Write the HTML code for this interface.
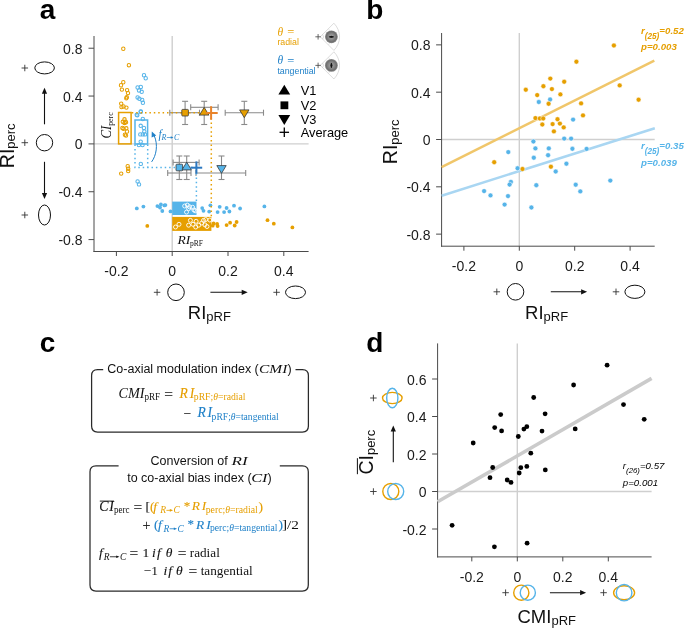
<!DOCTYPE html>
<html><head><meta charset="utf-8"><style>
html,body{margin:0;padding:0;background:#fff;}
svg{display:block;will-change:transform;}

</style></head><body>
<svg width="685" height="628" viewBox="0 0 685 628">
<rect width="685" height="628" fill="#fff"/>
<text x="39.80" y="19.30" font-size="28" text-anchor="start" fill="#000" font-family='"Liberation Sans", sans-serif' font-weight="bold">a</text>
<line x1="172.20" y1="36.00" x2="172.20" y2="251.50" stroke="#cfcfcf" stroke-width="1.4" />
<line x1="94.00" y1="143.90" x2="308.60" y2="143.90" stroke="#cfcfcf" stroke-width="1.4" />
<line x1="94.00" y1="36.00" x2="94.00" y2="252.00" stroke="#4a4a4a" stroke-width="1" />
<line x1="93.50" y1="251.50" x2="308.60" y2="251.50" stroke="#4a4a4a" stroke-width="1" />
<line x1="88.50" y1="48.22" x2="94.00" y2="48.22" stroke="#4a4a4a" stroke-width="1" />
<text x="82.50" y="53.72" font-size="14" text-anchor="end" fill="#1a1a1a" font-family='"Liberation Sans", sans-serif' >0.8</text>
<line x1="88.50" y1="96.06" x2="94.00" y2="96.06" stroke="#4a4a4a" stroke-width="1" />
<text x="82.50" y="101.56" font-size="14" text-anchor="end" fill="#1a1a1a" font-family='"Liberation Sans", sans-serif' >0.4</text>
<line x1="88.50" y1="143.90" x2="94.00" y2="143.90" stroke="#4a4a4a" stroke-width="1" />
<text x="82.50" y="149.40" font-size="14" text-anchor="end" fill="#1a1a1a" font-family='"Liberation Sans", sans-serif' >0</text>
<line x1="88.50" y1="191.74" x2="94.00" y2="191.74" stroke="#4a4a4a" stroke-width="1" />
<text x="82.50" y="197.24" font-size="14" text-anchor="end" fill="#1a1a1a" font-family='"Liberation Sans", sans-serif' >-0.4</text>
<line x1="88.50" y1="239.58" x2="94.00" y2="239.58" stroke="#4a4a4a" stroke-width="1" />
<text x="82.50" y="245.08" font-size="14" text-anchor="end" fill="#1a1a1a" font-family='"Liberation Sans", sans-serif' >-0.8</text>
<line x1="116.40" y1="251.50" x2="116.40" y2="256.00" stroke="#4a4a4a" stroke-width="1" />
<text x="116.40" y="276.20" font-size="14" text-anchor="middle" fill="#1a1a1a" font-family='"Liberation Sans", sans-serif' >-0.2</text>
<line x1="172.20" y1="251.50" x2="172.20" y2="256.00" stroke="#4a4a4a" stroke-width="1" />
<text x="172.20" y="276.20" font-size="14" text-anchor="middle" fill="#1a1a1a" font-family='"Liberation Sans", sans-serif' >0</text>
<line x1="228.00" y1="251.50" x2="228.00" y2="256.00" stroke="#4a4a4a" stroke-width="1" />
<text x="228.00" y="276.20" font-size="14" text-anchor="middle" fill="#1a1a1a" font-family='"Liberation Sans", sans-serif' >0.2</text>
<line x1="283.80" y1="251.50" x2="283.80" y2="256.00" stroke="#4a4a4a" stroke-width="1" />
<text x="283.80" y="276.20" font-size="14" text-anchor="middle" fill="#1a1a1a" font-family='"Liberation Sans", sans-serif' >0.4</text>
<text transform="translate(14,168.2) rotate(-90)" font-family='"Liberation Sans", sans-serif' fill="#111"><tspan font-size="19.5">RI</tspan><tspan font-size="13" dy="1.2">perc</tspan></text>
<line x1="21.55" y1="68.00" x2="28.05" y2="68.00" stroke="#333" stroke-width="0.9" />
<line x1="24.80" y1="64.75" x2="24.80" y2="71.25" stroke="#333" stroke-width="0.9" />
<ellipse cx="44.6" cy="67.9" rx="9.8" ry="6.0" fill="none" stroke="#111" stroke-width="1"/>
<line x1="21.55" y1="142.70" x2="28.05" y2="142.70" stroke="#333" stroke-width="0.9" />
<line x1="24.80" y1="139.45" x2="24.80" y2="145.95" stroke="#333" stroke-width="0.9" />
<circle cx="44.5" cy="142.7" r="8.2" fill="none" stroke="#111" stroke-width="1"/>
<line x1="21.55" y1="215.00" x2="28.05" y2="215.00" stroke="#333" stroke-width="0.9" />
<line x1="24.80" y1="211.75" x2="24.80" y2="218.25" stroke="#333" stroke-width="0.9" />
<ellipse cx="44.5" cy="215" rx="6.0" ry="10" fill="none" stroke="#111" stroke-width="1"/>
<line x1="44.50" y1="124.30" x2="44.50" y2="92.70" stroke="#111" stroke-width="1.1" />
<path d="M44.50,87.70 L41.90,93.70 L47.10,93.70 Z" fill="#111"/>
<line x1="44.50" y1="161.80" x2="44.50" y2="194.00" stroke="#111" stroke-width="1.1" />
<path d="M44.50,199.00 L41.90,193.00 L47.10,193.00 Z" fill="#111"/>
<line x1="153.85" y1="292.30" x2="160.35" y2="292.30" stroke="#333" stroke-width="0.9" />
<line x1="157.10" y1="289.05" x2="157.10" y2="295.55" stroke="#333" stroke-width="0.9" />
<circle cx="176" cy="292.3" r="8.3" fill="none" stroke="#111" stroke-width="1"/>
<line x1="210.40" y1="292.30" x2="242.70" y2="292.30" stroke="#111" stroke-width="1.1" />
<path d="M247.70,292.30 L241.70,289.70 L241.70,294.90 Z" fill="#111"/>
<line x1="273.35" y1="292.30" x2="279.85" y2="292.30" stroke="#333" stroke-width="0.9" />
<line x1="276.60" y1="289.05" x2="276.60" y2="295.55" stroke="#333" stroke-width="0.9" />
<ellipse cx="295.5" cy="292.3" rx="10" ry="6.3" fill="none" stroke="#111" stroke-width="1"/>
<text x="187.8" y="319.4" font-family='"Liberation Sans", sans-serif' fill="#111"><tspan font-size="18.5">RI</tspan><tspan font-size="13" dy="1.4">pRF</tspan></text>
<rect x="118.6" y="112.5" width="12.5" height="31.4" fill="none" stroke="#E69F00" stroke-width="1.5"/>
<rect x="135.0" y="120.0" width="12.6" height="24" fill="none" stroke="#56B4E9" stroke-width="1.5"/>
<circle cx="123.30" cy="48.70" r="1.7" fill="none" stroke="#E69F00" stroke-width="1.05"/>
<circle cx="128.90" cy="65.20" r="1.7" fill="none" stroke="#E69F00" stroke-width="1.05"/>
<circle cx="123.30" cy="82.20" r="1.7" fill="none" stroke="#E69F00" stroke-width="1.05"/>
<circle cx="121.00" cy="85.20" r="1.7" fill="none" stroke="#E69F00" stroke-width="1.05"/>
<circle cx="121.90" cy="89.60" r="1.7" fill="none" stroke="#E69F00" stroke-width="1.05"/>
<circle cx="127.10" cy="90.10" r="1.7" fill="none" stroke="#E69F00" stroke-width="1.05"/>
<circle cx="128.00" cy="93.10" r="1.7" fill="none" stroke="#E69F00" stroke-width="1.05"/>
<circle cx="126.30" cy="98.30" r="1.7" fill="none" stroke="#E69F00" stroke-width="1.05"/>
<circle cx="126.80" cy="97.20" r="1.7" fill="none" stroke="#E69F00" stroke-width="1.05"/>
<circle cx="121.20" cy="103.60" r="1.7" fill="none" stroke="#E69F00" stroke-width="1.05"/>
<circle cx="121.50" cy="107.10" r="1.7" fill="none" stroke="#E69F00" stroke-width="1.05"/>
<circle cx="126.40" cy="107.60" r="1.7" fill="none" stroke="#E69F00" stroke-width="1.05"/>
<circle cx="123.50" cy="106.50" r="1.7" fill="none" stroke="#E69F00" stroke-width="1.05"/>
<circle cx="124.50" cy="119.30" r="1.7" fill="none" stroke="#E69F00" stroke-width="1.05"/>
<circle cx="122.80" cy="121.80" r="1.7" fill="none" stroke="#E69F00" stroke-width="1.05"/>
<circle cx="126.00" cy="122.20" r="1.7" fill="none" stroke="#E69F00" stroke-width="1.05"/>
<circle cx="124.50" cy="122.90" r="1.7" fill="none" stroke="#E69F00" stroke-width="1.05"/>
<circle cx="125.30" cy="121.80" r="1.7" fill="none" stroke="#E69F00" stroke-width="1.05"/>
<circle cx="122.40" cy="127.90" r="1.7" fill="none" stroke="#E69F00" stroke-width="1.05"/>
<circle cx="123.50" cy="128.70" r="1.7" fill="none" stroke="#E69F00" stroke-width="1.05"/>
<circle cx="126.30" cy="128.30" r="1.7" fill="none" stroke="#E69F00" stroke-width="1.05"/>
<circle cx="127.00" cy="131.50" r="1.7" fill="none" stroke="#E69F00" stroke-width="1.05"/>
<circle cx="126.00" cy="135.50" r="1.7" fill="none" stroke="#E69F00" stroke-width="1.05"/>
<circle cx="124.90" cy="134.70" r="1.7" fill="none" stroke="#E69F00" stroke-width="1.05"/>
<circle cx="121.20" cy="173.60" r="1.7" fill="none" stroke="#E69F00" stroke-width="1.05"/>
<circle cx="127.70" cy="166.20" r="1.7" fill="none" stroke="#E69F00" stroke-width="1.05"/>
<circle cx="128.20" cy="168.70" r="1.7" fill="none" stroke="#E69F00" stroke-width="1.05"/>
<circle cx="128.20" cy="171.00" r="1.7" fill="none" stroke="#E69F00" stroke-width="1.05"/>
<circle cx="144.00" cy="75.20" r="1.7" fill="none" stroke="#56B4E9" stroke-width="1.05"/>
<circle cx="145.70" cy="78.20" r="1.7" fill="none" stroke="#56B4E9" stroke-width="1.05"/>
<circle cx="137.60" cy="87.50" r="1.7" fill="none" stroke="#56B4E9" stroke-width="1.05"/>
<circle cx="140.80" cy="86.90" r="1.7" fill="none" stroke="#56B4E9" stroke-width="1.05"/>
<circle cx="139.00" cy="90.40" r="1.7" fill="none" stroke="#56B4E9" stroke-width="1.05"/>
<circle cx="141.70" cy="91.80" r="1.7" fill="none" stroke="#56B4E9" stroke-width="1.05"/>
<circle cx="137.60" cy="97.40" r="1.7" fill="none" stroke="#56B4E9" stroke-width="1.05"/>
<circle cx="139.40" cy="98.70" r="1.7" fill="none" stroke="#56B4E9" stroke-width="1.05"/>
<circle cx="142.20" cy="100.00" r="1.7" fill="none" stroke="#56B4E9" stroke-width="1.05"/>
<circle cx="142.90" cy="102.70" r="1.7" fill="none" stroke="#56B4E9" stroke-width="1.05"/>
<circle cx="140.80" cy="111.40" r="1.7" fill="none" stroke="#56B4E9" stroke-width="1.05"/>
<circle cx="137.30" cy="115.30" r="1.7" fill="none" stroke="#56B4E9" stroke-width="1.05"/>
<circle cx="136.70" cy="114.70" r="1.7" fill="none" stroke="#56B4E9" stroke-width="1.05"/>
<circle cx="140.70" cy="111.80" r="1.7" fill="none" stroke="#56B4E9" stroke-width="1.05"/>
<circle cx="142.80" cy="119.00" r="1.7" fill="none" stroke="#56B4E9" stroke-width="1.05"/>
<circle cx="140.70" cy="125.80" r="1.7" fill="none" stroke="#56B4E9" stroke-width="1.05"/>
<circle cx="143.90" cy="127.90" r="1.7" fill="none" stroke="#56B4E9" stroke-width="1.05"/>
<circle cx="144.30" cy="131.50" r="1.7" fill="none" stroke="#56B4E9" stroke-width="1.05"/>
<circle cx="140.30" cy="134.40" r="1.7" fill="none" stroke="#56B4E9" stroke-width="1.05"/>
<circle cx="142.80" cy="134.40" r="1.7" fill="none" stroke="#56B4E9" stroke-width="1.05"/>
<circle cx="145.00" cy="134.40" r="1.7" fill="none" stroke="#56B4E9" stroke-width="1.05"/>
<circle cx="140.70" cy="141.60" r="1.7" fill="none" stroke="#56B4E9" stroke-width="1.05"/>
<circle cx="138.90" cy="145.10" r="1.7" fill="none" stroke="#56B4E9" stroke-width="1.05"/>
<circle cx="142.50" cy="145.10" r="1.7" fill="none" stroke="#56B4E9" stroke-width="1.05"/>
<circle cx="140.80" cy="163.90" r="1.7" fill="none" stroke="#56B4E9" stroke-width="1.05"/>
<circle cx="137.60" cy="181.40" r="1.7" fill="none" stroke="#56B4E9" stroke-width="1.05"/>
<circle cx="139.00" cy="184.40" r="1.7" fill="none" stroke="#56B4E9" stroke-width="1.05"/>
<text transform="translate(110.6,138.6) rotate(-90)" font-family='"Liberation Serif", serif' fill="#111"><tspan font-size="14.4" font-style="italic" textLength="12.8" lengthAdjust="spacingAndGlyphs">CI</tspan><tspan font-size="8.4" dy="2" textLength="13.5" lengthAdjust="spacingAndGlyphs">perc</tspan></text>
<path d="M151.6,161.9 C156.3,155.5 158.3,145 154.2,135.6" fill="none" stroke="#1f80c8" stroke-width="1.0"/>
<path d="M151.8,131.6 L151.6,137.6 L156.2,135.4 Z" fill="#1f80c8"/>
<text x="158.6" y="137.8" font-family='"Liberation Serif", serif' fill="#1f80c8" font-style="italic" font-size="11.5">f</text>
<text x="161.60" y="139.90" font-size="8" fill="#1f80c8" font-family='"Liberation Serif", serif' font-style="italic">R</text>
<text x="173.96" y="139.90" font-size="8" fill="#1f80c8" font-family='"Liberation Serif", serif' font-style="italic">C</text>
<line x1="166.79" y1="137.50" x2="171.83" y2="137.50" stroke="#1f80c8" stroke-width="0.68"/>
<path d="M173.46,137.50 L170.74,136.36 L170.74,138.64 Z" fill="#1f80c8"/>
<rect x="172.2" y="201.6" width="24.3" height="13.4" fill="#56B4E9"/>
<rect x="172.2" y="216.9" width="39.2" height="14" fill="#E69F00"/>
<circle cx="184.70" cy="206.00" r="2.0" fill="none" stroke="#fff" stroke-width="0.9"/>
<circle cx="187.30" cy="205.10" r="2.0" fill="none" stroke="#fff" stroke-width="0.9"/>
<circle cx="189.50" cy="206.80" r="2.0" fill="none" stroke="#fff" stroke-width="0.9"/>
<circle cx="192.60" cy="207.30" r="2.0" fill="none" stroke="#fff" stroke-width="0.9"/>
<circle cx="186.50" cy="212.10" r="2.0" fill="none" stroke="#fff" stroke-width="0.9"/>
<circle cx="188.60" cy="208.60" r="2.0" fill="none" stroke="#fff" stroke-width="0.9"/>
<circle cx="195.20" cy="210.80" r="2.0" fill="none" stroke="#fff" stroke-width="0.9"/>
<circle cx="193.90" cy="209.90" r="2.0" fill="none" stroke="#fff" stroke-width="0.9"/>
<circle cx="175.50" cy="227.00" r="2.0" fill="none" stroke="#fff" stroke-width="0.9"/>
<circle cx="179.00" cy="224.30" r="2.0" fill="none" stroke="#fff" stroke-width="0.9"/>
<circle cx="190.40" cy="220.40" r="2.0" fill="none" stroke="#fff" stroke-width="0.9"/>
<circle cx="188.60" cy="225.20" r="2.0" fill="none" stroke="#fff" stroke-width="0.9"/>
<circle cx="193.00" cy="224.30" r="2.0" fill="none" stroke="#fff" stroke-width="0.9"/>
<circle cx="196.10" cy="221.30" r="2.0" fill="none" stroke="#fff" stroke-width="0.9"/>
<circle cx="195.70" cy="227.00" r="2.0" fill="none" stroke="#fff" stroke-width="0.9"/>
<circle cx="198.70" cy="225.20" r="2.0" fill="none" stroke="#fff" stroke-width="0.9"/>
<circle cx="201.80" cy="223.00" r="2.0" fill="none" stroke="#fff" stroke-width="0.9"/>
<circle cx="203.50" cy="220.40" r="2.0" fill="none" stroke="#fff" stroke-width="0.9"/>
<circle cx="205.70" cy="219.50" r="2.0" fill="none" stroke="#fff" stroke-width="0.9"/>
<circle cx="207.00" cy="226.50" r="2.0" fill="none" stroke="#fff" stroke-width="0.9"/>
<circle cx="209.80" cy="220.00" r="2.0" fill="none" stroke="#fff" stroke-width="0.9"/>
<circle cx="204.90" cy="224.80" r="2.0" fill="none" stroke="#fff" stroke-width="0.9"/>
<circle cx="136.80" cy="208.40" r="1.9" fill="#56B4E9"/>
<circle cx="143.40" cy="206.60" r="1.9" fill="#56B4E9"/>
<circle cx="157.40" cy="206.10" r="1.9" fill="#56B4E9"/>
<circle cx="160.90" cy="204.40" r="1.9" fill="#56B4E9"/>
<circle cx="164.40" cy="205.40" r="1.9" fill="#56B4E9"/>
<circle cx="162.30" cy="211.00" r="1.9" fill="#56B4E9"/>
<circle cx="160.00" cy="207.50" r="1.9" fill="#56B4E9"/>
<circle cx="170.50" cy="211.40" r="1.9" fill="#56B4E9"/>
<circle cx="165.40" cy="205.10" r="1.9" fill="#56B4E9"/>
<circle cx="202.20" cy="208.10" r="1.9" fill="#56B4E9"/>
<circle cx="203.50" cy="210.80" r="1.9" fill="#56B4E9"/>
<circle cx="210.40" cy="205.30" r="1.9" fill="#56B4E9"/>
<circle cx="209.20" cy="211.60" r="1.9" fill="#56B4E9"/>
<circle cx="219.70" cy="206.80" r="1.9" fill="#56B4E9"/>
<circle cx="217.60" cy="212.10" r="1.9" fill="#56B4E9"/>
<circle cx="224.10" cy="212.10" r="1.9" fill="#56B4E9"/>
<circle cx="226.60" cy="208.00" r="1.9" fill="#56B4E9"/>
<circle cx="229.40" cy="211.50" r="1.9" fill="#56B4E9"/>
<circle cx="234.00" cy="205.70" r="1.9" fill="#56B4E9"/>
<circle cx="240.10" cy="208.50" r="1.9" fill="#56B4E9"/>
<circle cx="264.40" cy="206.40" r="1.9" fill="#56B4E9"/>
<circle cx="147.30" cy="225.90" r="1.9" fill="#E69F00"/>
<circle cx="213.60" cy="223.50" r="1.9" fill="#E69F00"/>
<circle cx="217.10" cy="223.90" r="1.9" fill="#E69F00"/>
<circle cx="217.60" cy="226.10" r="1.9" fill="#E69F00"/>
<circle cx="212.70" cy="225.70" r="1.9" fill="#E69F00"/>
<circle cx="226.60" cy="225.10" r="1.9" fill="#E69F00"/>
<circle cx="230.10" cy="222.70" r="1.9" fill="#E69F00"/>
<circle cx="234.70" cy="225.50" r="1.9" fill="#E69F00"/>
<circle cx="236.60" cy="222.00" r="1.9" fill="#E69F00"/>
<circle cx="267.50" cy="220.20" r="1.9" fill="#E69F00"/>
<circle cx="273.80" cy="223.70" r="1.9" fill="#E69F00"/>
<circle cx="292.40" cy="227.40" r="1.9" fill="#E69F00"/>
<text x="177.6" y="243.8" font-family='"Liberation Serif", serif' fill="#111" font-size="11.5" font-style="italic" textLength="12.8" lengthAdjust="spacingAndGlyphs">RI</text>
<text x="189.9" y="245.8" font-family='"Liberation Serif", serif' fill="#111" font-size="8.2" textLength="13" lengthAdjust="spacingAndGlyphs">pRF</text>
<line x1="169.80" y1="112.70" x2="199.50" y2="112.70" stroke="#8a8a8a" stroke-width="1.1" />
<line x1="169.80" y1="109.70" x2="169.80" y2="115.70" stroke="#8a8a8a" stroke-width="1.1" />
<line x1="199.50" y1="109.70" x2="199.50" y2="115.70" stroke="#8a8a8a" stroke-width="1.1" />
<line x1="190.70" y1="107.30" x2="218.10" y2="107.30" stroke="#8a8a8a" stroke-width="1.1" />
<line x1="190.70" y1="104.30" x2="190.70" y2="110.30" stroke="#8a8a8a" stroke-width="1.1" />
<line x1="218.10" y1="104.30" x2="218.10" y2="110.30" stroke="#8a8a8a" stroke-width="1.1" />
<line x1="225.20" y1="112.70" x2="263.50" y2="112.70" stroke="#8a8a8a" stroke-width="1.1" />
<line x1="225.20" y1="109.70" x2="225.20" y2="115.70" stroke="#8a8a8a" stroke-width="1.1" />
<line x1="263.50" y1="109.70" x2="263.50" y2="115.70" stroke="#8a8a8a" stroke-width="1.1" />
<line x1="185.10" y1="101.30" x2="185.10" y2="124.50" stroke="#8a8a8a" stroke-width="1.1" />
<line x1="182.10" y1="101.30" x2="188.10" y2="101.30" stroke="#8a8a8a" stroke-width="1.1" />
<line x1="182.10" y1="124.50" x2="188.10" y2="124.50" stroke="#8a8a8a" stroke-width="1.1" />
<line x1="204.20" y1="101.30" x2="204.20" y2="124.50" stroke="#8a8a8a" stroke-width="1.1" />
<line x1="201.20" y1="101.30" x2="207.20" y2="101.30" stroke="#8a8a8a" stroke-width="1.1" />
<line x1="201.20" y1="124.50" x2="207.20" y2="124.50" stroke="#8a8a8a" stroke-width="1.1" />
<line x1="244.30" y1="101.30" x2="244.30" y2="124.50" stroke="#8a8a8a" stroke-width="1.1" />
<line x1="241.30" y1="101.30" x2="247.30" y2="101.30" stroke="#8a8a8a" stroke-width="1.1" />
<line x1="241.30" y1="124.50" x2="247.30" y2="124.50" stroke="#8a8a8a" stroke-width="1.1" />
<line x1="173.10" y1="162.40" x2="199.10" y2="162.40" stroke="#8a8a8a" stroke-width="1.1" />
<line x1="173.10" y1="159.40" x2="173.10" y2="165.40" stroke="#8a8a8a" stroke-width="1.1" />
<line x1="199.10" y1="159.40" x2="199.10" y2="165.40" stroke="#8a8a8a" stroke-width="1.1" />
<line x1="167.70" y1="173.00" x2="191.00" y2="173.00" stroke="#8a8a8a" stroke-width="1.1" />
<line x1="167.70" y1="170.00" x2="167.70" y2="176.00" stroke="#8a8a8a" stroke-width="1.1" />
<line x1="191.00" y1="170.00" x2="191.00" y2="176.00" stroke="#8a8a8a" stroke-width="1.1" />
<line x1="196.00" y1="173.00" x2="245.70" y2="173.00" stroke="#8a8a8a" stroke-width="1.1" />
<line x1="196.00" y1="170.00" x2="196.00" y2="176.00" stroke="#8a8a8a" stroke-width="1.1" />
<line x1="245.70" y1="170.00" x2="245.70" y2="176.00" stroke="#8a8a8a" stroke-width="1.1" />
<line x1="179.30" y1="156.00" x2="179.30" y2="179.50" stroke="#8a8a8a" stroke-width="1.1" />
<line x1="176.30" y1="156.00" x2="182.30" y2="156.00" stroke="#8a8a8a" stroke-width="1.1" />
<line x1="176.30" y1="179.50" x2="182.30" y2="179.50" stroke="#8a8a8a" stroke-width="1.1" />
<line x1="186.70" y1="156.00" x2="186.70" y2="179.50" stroke="#8a8a8a" stroke-width="1.1" />
<line x1="183.70" y1="156.00" x2="189.70" y2="156.00" stroke="#8a8a8a" stroke-width="1.1" />
<line x1="183.70" y1="179.50" x2="189.70" y2="179.50" stroke="#8a8a8a" stroke-width="1.1" />
<line x1="221.50" y1="156.00" x2="221.50" y2="179.50" stroke="#8a8a8a" stroke-width="1.1" />
<line x1="218.50" y1="156.00" x2="224.50" y2="156.00" stroke="#8a8a8a" stroke-width="1.1" />
<line x1="218.50" y1="179.50" x2="224.50" y2="179.50" stroke="#8a8a8a" stroke-width="1.1" />
<line x1="131.8" y1="112.7" x2="210" y2="112.7" stroke="#E69F00" stroke-width="1.5" stroke-dasharray="1.5 2.9"/>
<line x1="211.3" y1="118" x2="211.3" y2="217" stroke="#E69F00" stroke-width="1.5" stroke-dasharray="1.5 2.9"/>
<polyline points="135,144.5 135,167.6 196,167.6" fill="none" stroke="#56B4E9" stroke-width="1.5" stroke-dasharray="1.5 2.9"/>
<line x1="147.7" y1="144.5" x2="147.7" y2="167.6" stroke="#56B4E9" stroke-width="1.5" stroke-dasharray="1.5 2.9"/>
<line x1="196.4" y1="173" x2="196.4" y2="201.5" stroke="#56B4E9" stroke-width="1.5" stroke-dasharray="1.5 2.9"/>
<rect x="181.80" y="109.40" width="6.6" height="6.6" rx="0.8" fill="#E69F00" stroke="#3a3a3a" stroke-width="0.8"/>
<path d="M204.20,107.32 L208.90,115.12 L199.50,115.12 Z" fill="#E69F00" stroke="#3a3a3a" stroke-width="0.8" stroke-linejoin="round"/>
<path d="M244.30,117.68 L249.00,109.88 L239.60,109.88 Z" fill="#E69F00" stroke="#3a3a3a" stroke-width="0.8" stroke-linejoin="round"/>
<rect x="176.00" y="164.20" width="6.6" height="6.6" rx="0.8" fill="#56B4E9" stroke="#3a3a3a" stroke-width="0.8"/>
<path d="M186.70,162.12 L191.40,169.92 L182.00,169.92 Z" fill="#56B4E9" stroke="#3a3a3a" stroke-width="0.8" stroke-linejoin="round"/>
<path d="M221.50,173.38 L226.20,165.58 L216.80,165.58 Z" fill="#56B4E9" stroke="#3a3a3a" stroke-width="0.8" stroke-linejoin="round"/>
<line x1="205.70" y1="113.00" x2="217.70" y2="113.00" stroke="#E8832A" stroke-width="2.0" />
<line x1="211.10" y1="106.20" x2="211.10" y2="119.70" stroke="#E8832A" stroke-width="2.0" />
<line x1="190.40" y1="167.70" x2="202.20" y2="167.70" stroke="#2c78c0" stroke-width="2.0" />
<line x1="196.40" y1="161.40" x2="196.40" y2="173.60" stroke="#2c78c0" stroke-width="2.0" />
<path d="M284.3,84.8 L290.2,94.6 L278.4,94.6 Z" fill="#000"/>
<rect x="280.5" y="101.4" width="7.8" height="7.8" fill="#000"/>
<path d="M284.3,124.9 L290.2,115.1 L278.4,115.1 Z" fill="#000"/>
<line x1="279.55" y1="132.30" x2="289.05" y2="132.30" stroke="#000" stroke-width="1.3" />
<line x1="284.30" y1="127.55" x2="284.30" y2="137.05" stroke="#000" stroke-width="1.3" />
<text x="300.80" y="94.90" font-size="12.8" text-anchor="start" fill="#000" font-family='"Liberation Sans", sans-serif' >V1</text>
<text x="300.80" y="109.80" font-size="12.8" text-anchor="start" fill="#000" font-family='"Liberation Sans", sans-serif' >V2</text>
<text x="300.80" y="124.30" font-size="12.8" text-anchor="start" fill="#000" font-family='"Liberation Sans", sans-serif' >V3</text>
<text x="300.80" y="137.00" font-size="12.8" text-anchor="start" fill="#000" font-family='"Liberation Sans", sans-serif' >Average</text>
<text x="277.4" y="35.6" font-family='"Liberation Serif", serif' fill="#E69F00" font-size="11.5" font-style="italic">θ</text>
<text x="287.2" y="36.0" font-family='"Liberation Serif", serif' fill="#E69F00" font-size="12.5">=</text>
<text x="277.40" y="44.90" font-size="8.8" text-anchor="start" fill="#E69F00" font-family='"Liberation Sans", sans-serif' >radial</text>
<text x="277.4" y="64.4" font-family='"Liberation Serif", serif' fill="#1f80c8" font-size="11.5" font-style="italic">θ</text>
<text x="287.2" y="64.80000000000001" font-family='"Liberation Serif", serif' fill="#1f80c8" font-size="12.5">=</text>
<text x="277.40" y="74.00" font-size="8.8" text-anchor="start" fill="#1f80c8" font-family='"Liberation Sans", sans-serif' >tangential</text>
<defs><radialGradient id="gg" cx="0.5" cy="0.5" r="0.5"><stop offset="0" stop-color="#2a2a2a"/><stop offset="0.25" stop-color="#9a9a9a"/><stop offset="0.45" stop-color="#8a8a8a"/><stop offset="0.8" stop-color="#6e6e6e"/><stop offset="1" stop-color="#8a8a8a"/></radialGradient></defs>
<path d="M320.3,36.8 L333.88,23.22 A19.2,19.2 0 0 1 333.88,50.38 Z" fill="none" stroke="#c4c4c4" stroke-width="0.6"/>
<path d="M322.56,34.54 A3.2,3.2 0 0 1 322.56,39.06" fill="none" stroke="#c4c4c4" stroke-width="0.6"/>
<path d="M328.43,28.67 A11.5,11.5 0 0 1 328.43,44.93" fill="none" stroke="#d4d4d4" stroke-width="0.5"/>
<circle cx="331.4" cy="36.8" r="6.4" fill="url(#gg)"/>
<ellipse cx="331.4" cy="36.8" rx="2.6" ry="0.9" fill="#111"/>
<line x1="315.35" y1="36.80" x2="320.85" y2="36.80" stroke="#444" stroke-width="0.8" />
<line x1="318.10" y1="34.05" x2="318.10" y2="39.55" stroke="#444" stroke-width="0.8" />
<path d="M320.3,65.4 L333.88,51.82 A19.2,19.2 0 0 1 333.88,78.98 Z" fill="none" stroke="#c4c4c4" stroke-width="0.6"/>
<path d="M322.56,63.14 A3.2,3.2 0 0 1 322.56,67.66" fill="none" stroke="#c4c4c4" stroke-width="0.6"/>
<path d="M328.43,57.27 A11.5,11.5 0 0 1 328.43,73.53" fill="none" stroke="#d4d4d4" stroke-width="0.5"/>
<circle cx="331.4" cy="65.4" r="6.4" fill="url(#gg)"/>
<ellipse cx="331.4" cy="65.4" rx="0.9" ry="2.6" fill="#111"/>
<line x1="315.35" y1="65.40" x2="320.85" y2="65.40" stroke="#444" stroke-width="0.8" />
<line x1="318.10" y1="62.65" x2="318.10" y2="68.15" stroke="#444" stroke-width="0.8" />
<text x="366.20" y="19.30" font-size="28" text-anchor="start" fill="#000" font-family='"Liberation Sans", sans-serif' font-weight="bold">b</text>
<line x1="519.30" y1="33.00" x2="519.30" y2="246.20" stroke="#cfcfcf" stroke-width="1.4" />
<line x1="441.60" y1="139.50" x2="654.70" y2="139.50" stroke="#cfcfcf" stroke-width="1.4" />
<line x1="441.60" y1="33.00" x2="441.60" y2="246.70" stroke="#4a4a4a" stroke-width="1" />
<line x1="441.10" y1="246.20" x2="654.70" y2="246.20" stroke="#4a4a4a" stroke-width="1" />
<line x1="436.10" y1="44.86" x2="441.60" y2="44.86" stroke="#4a4a4a" stroke-width="1" />
<text x="430.50" y="50.36" font-size="14" text-anchor="end" fill="#1a1a1a" font-family='"Liberation Sans", sans-serif' >0.8</text>
<line x1="436.10" y1="92.18" x2="441.60" y2="92.18" stroke="#4a4a4a" stroke-width="1" />
<text x="430.50" y="97.68" font-size="14" text-anchor="end" fill="#1a1a1a" font-family='"Liberation Sans", sans-serif' >0.4</text>
<line x1="436.10" y1="139.50" x2="441.60" y2="139.50" stroke="#4a4a4a" stroke-width="1" />
<text x="430.50" y="145.00" font-size="14" text-anchor="end" fill="#1a1a1a" font-family='"Liberation Sans", sans-serif' >0</text>
<line x1="436.10" y1="186.82" x2="441.60" y2="186.82" stroke="#4a4a4a" stroke-width="1" />
<text x="430.50" y="192.32" font-size="14" text-anchor="end" fill="#1a1a1a" font-family='"Liberation Sans", sans-serif' >-0.4</text>
<line x1="436.10" y1="234.14" x2="441.60" y2="234.14" stroke="#4a4a4a" stroke-width="1" />
<text x="430.50" y="239.64" font-size="14" text-anchor="end" fill="#1a1a1a" font-family='"Liberation Sans", sans-serif' >-0.8</text>
<line x1="463.90" y1="246.20" x2="463.90" y2="250.70" stroke="#4a4a4a" stroke-width="1" />
<text x="463.90" y="271.30" font-size="14" text-anchor="middle" fill="#1a1a1a" font-family='"Liberation Sans", sans-serif' >-0.2</text>
<line x1="519.30" y1="246.20" x2="519.30" y2="250.70" stroke="#4a4a4a" stroke-width="1" />
<text x="519.30" y="271.30" font-size="14" text-anchor="middle" fill="#1a1a1a" font-family='"Liberation Sans", sans-serif' >0</text>
<line x1="574.70" y1="246.20" x2="574.70" y2="250.70" stroke="#4a4a4a" stroke-width="1" />
<text x="574.70" y="271.30" font-size="14" text-anchor="middle" fill="#1a1a1a" font-family='"Liberation Sans", sans-serif' >0.2</text>
<line x1="630.10" y1="246.20" x2="630.10" y2="250.70" stroke="#4a4a4a" stroke-width="1" />
<text x="630.10" y="271.30" font-size="14" text-anchor="middle" fill="#1a1a1a" font-family='"Liberation Sans", sans-serif' >0.4</text>
<text transform="translate(396.9,164.2) rotate(-90)" font-family='"Liberation Sans", sans-serif' fill="#111"><tspan font-size="19.5">RI</tspan><tspan font-size="13" dy="1.6">perc</tspan></text>
<line x1="441.6" y1="167.2" x2="654.3" y2="60.6" stroke="#f0c66a" stroke-width="2.5"/>
<line x1="441.6" y1="195.7" x2="654.8" y2="128.2" stroke="#a9d6f2" stroke-width="2.5"/>
<circle cx="538.80" cy="102.00" r="2.45" fill="#56B4E9" stroke="#fff" stroke-width="0.5"/>
<circle cx="550.10" cy="99.50" r="2.45" fill="#56B4E9" stroke="#fff" stroke-width="0.5"/>
<circle cx="573.10" cy="119.60" r="2.45" fill="#56B4E9" stroke="#fff" stroke-width="0.5"/>
<circle cx="533.40" cy="141.50" r="2.45" fill="#56B4E9" stroke="#fff" stroke-width="0.5"/>
<circle cx="564.20" cy="138.60" r="2.45" fill="#56B4E9" stroke="#fff" stroke-width="0.5"/>
<circle cx="571.10" cy="138.60" r="2.45" fill="#56B4E9" stroke="#fff" stroke-width="0.5"/>
<circle cx="535.40" cy="148.40" r="2.45" fill="#56B4E9" stroke="#fff" stroke-width="0.5"/>
<circle cx="548.80" cy="148.40" r="2.45" fill="#56B4E9" stroke="#fff" stroke-width="0.5"/>
<circle cx="572.40" cy="148.80" r="2.45" fill="#56B4E9" stroke="#fff" stroke-width="0.5"/>
<circle cx="586.60" cy="148.90" r="2.45" fill="#56B4E9" stroke="#fff" stroke-width="0.5"/>
<circle cx="508.30" cy="152.10" r="2.45" fill="#56B4E9" stroke="#fff" stroke-width="0.5"/>
<circle cx="533.80" cy="157.70" r="2.45" fill="#56B4E9" stroke="#fff" stroke-width="0.5"/>
<circle cx="548.10" cy="155.20" r="2.45" fill="#56B4E9" stroke="#fff" stroke-width="0.5"/>
<circle cx="566.40" cy="163.70" r="2.45" fill="#56B4E9" stroke="#fff" stroke-width="0.5"/>
<circle cx="517.60" cy="168.30" r="2.45" fill="#56B4E9" stroke="#fff" stroke-width="0.5"/>
<circle cx="555.70" cy="171.50" r="2.45" fill="#56B4E9" stroke="#fff" stroke-width="0.5"/>
<circle cx="510.90" cy="181.90" r="2.45" fill="#56B4E9" stroke="#fff" stroke-width="0.5"/>
<circle cx="509.60" cy="184.60" r="2.45" fill="#56B4E9" stroke="#fff" stroke-width="0.5"/>
<circle cx="536.30" cy="185.20" r="2.45" fill="#56B4E9" stroke="#fff" stroke-width="0.5"/>
<circle cx="575.70" cy="184.70" r="2.45" fill="#56B4E9" stroke="#fff" stroke-width="0.5"/>
<circle cx="580.30" cy="191.40" r="2.45" fill="#56B4E9" stroke="#fff" stroke-width="0.5"/>
<circle cx="484.10" cy="191.10" r="2.45" fill="#56B4E9" stroke="#fff" stroke-width="0.5"/>
<circle cx="490.50" cy="195.40" r="2.45" fill="#56B4E9" stroke="#fff" stroke-width="0.5"/>
<circle cx="508.00" cy="196.10" r="2.45" fill="#56B4E9" stroke="#fff" stroke-width="0.5"/>
<circle cx="504.60" cy="204.60" r="2.45" fill="#56B4E9" stroke="#fff" stroke-width="0.5"/>
<circle cx="531.40" cy="207.50" r="2.45" fill="#56B4E9" stroke="#fff" stroke-width="0.5"/>
<circle cx="610.30" cy="180.60" r="2.45" fill="#56B4E9" stroke="#fff" stroke-width="0.5"/>
<circle cx="576.40" cy="61.70" r="2.45" fill="#E69F00" stroke="#fff" stroke-width="0.5"/>
<circle cx="613.90" cy="45.50" r="2.45" fill="#E69F00" stroke="#fff" stroke-width="0.5"/>
<circle cx="550.30" cy="78.60" r="2.45" fill="#E69F00" stroke="#fff" stroke-width="0.5"/>
<circle cx="564.20" cy="81.70" r="2.45" fill="#E69F00" stroke="#fff" stroke-width="0.5"/>
<circle cx="543.40" cy="86.20" r="2.45" fill="#E69F00" stroke="#fff" stroke-width="0.5"/>
<circle cx="551.90" cy="89.10" r="2.45" fill="#E69F00" stroke="#fff" stroke-width="0.5"/>
<circle cx="525.80" cy="89.70" r="2.45" fill="#E69F00" stroke="#fff" stroke-width="0.5"/>
<circle cx="537.20" cy="95.10" r="2.45" fill="#E69F00" stroke="#fff" stroke-width="0.5"/>
<circle cx="560.40" cy="94.40" r="2.45" fill="#E69F00" stroke="#fff" stroke-width="0.5"/>
<circle cx="548.60" cy="103.80" r="2.45" fill="#E69F00" stroke="#fff" stroke-width="0.5"/>
<circle cx="581.10" cy="103.40" r="2.45" fill="#E69F00" stroke="#fff" stroke-width="0.5"/>
<circle cx="619.70" cy="85.40" r="2.45" fill="#E69F00" stroke="#fff" stroke-width="0.5"/>
<circle cx="638.60" cy="99.70" r="2.45" fill="#E69F00" stroke="#fff" stroke-width="0.5"/>
<circle cx="583.00" cy="115.40" r="2.45" fill="#E69F00" stroke="#fff" stroke-width="0.5"/>
<circle cx="535.40" cy="118.10" r="2.45" fill="#E69F00" stroke="#fff" stroke-width="0.5"/>
<circle cx="539.90" cy="118.50" r="2.45" fill="#E69F00" stroke="#fff" stroke-width="0.5"/>
<circle cx="543.20" cy="118.50" r="2.45" fill="#E69F00" stroke="#fff" stroke-width="0.5"/>
<circle cx="557.50" cy="119.20" r="2.45" fill="#E69F00" stroke="#fff" stroke-width="0.5"/>
<circle cx="542.30" cy="124.50" r="2.45" fill="#E69F00" stroke="#fff" stroke-width="0.5"/>
<circle cx="552.60" cy="124.10" r="2.45" fill="#E69F00" stroke="#fff" stroke-width="0.5"/>
<circle cx="559.90" cy="123.60" r="2.45" fill="#E69F00" stroke="#fff" stroke-width="0.5"/>
<circle cx="563.70" cy="127.40" r="2.45" fill="#E69F00" stroke="#fff" stroke-width="0.5"/>
<circle cx="553.90" cy="131.40" r="2.45" fill="#E69F00" stroke="#fff" stroke-width="0.5"/>
<circle cx="494.20" cy="162.20" r="2.45" fill="#E69F00" stroke="#fff" stroke-width="0.5"/>
<circle cx="550.90" cy="166.70" r="2.45" fill="#E69F00" stroke="#fff" stroke-width="0.5"/>
<circle cx="522.50" cy="169.00" r="2.45" fill="#E69F00" stroke="#fff" stroke-width="0.5"/>
<text x="641" y="34.3" font-family='"Liberation Sans", sans-serif' fill="#E69F00" font-style="italic" font-weight="bold" font-size="9.7">r<tspan font-size="8.2" dy="4.6">(25)</tspan><tspan dy="-4.6">=0.52</tspan></text>
<text x="641.00" y="50.40" font-size="9.7" text-anchor="start" fill="#E69F00" font-family='"Liberation Sans", sans-serif' font-style="italic" font-weight="bold">p=0.003</text>
<text x="641" y="149.2" font-family='"Liberation Sans", sans-serif' fill="#56B4E9" font-style="italic" font-weight="bold" font-size="9.7">r<tspan font-size="8.2" dy="4.6">(25)</tspan><tspan dy="-4.6">=0.35</tspan></text>
<text x="641.00" y="165.80" font-size="9.7" text-anchor="start" fill="#56B4E9" font-family='"Liberation Sans", sans-serif' font-style="italic" font-weight="bold">p=0.039</text>
<line x1="493.55" y1="291.80" x2="500.05" y2="291.80" stroke="#333" stroke-width="0.9" />
<line x1="496.80" y1="288.55" x2="496.80" y2="295.05" stroke="#333" stroke-width="0.9" />
<circle cx="515.5" cy="291.8" r="8.3" fill="none" stroke="#111" stroke-width="1"/>
<line x1="550.80" y1="291.80" x2="582.10" y2="291.80" stroke="#111" stroke-width="1.1" />
<path d="M587.10,291.80 L581.10,289.20 L581.10,294.40 Z" fill="#111"/>
<line x1="612.75" y1="291.80" x2="619.25" y2="291.80" stroke="#333" stroke-width="0.9" />
<line x1="616.00" y1="288.55" x2="616.00" y2="295.05" stroke="#333" stroke-width="0.9" />
<ellipse cx="634.9" cy="291.8" rx="10" ry="6.6" fill="none" stroke="#111" stroke-width="1"/>
<text x="525.1" y="319.4" font-family='"Liberation Sans", sans-serif' fill="#111"><tspan font-size="18.5">RI</tspan><tspan font-size="13" dy="1.4">pRF</tspan></text>
<text x="39.80" y="352.20" font-size="28" text-anchor="start" fill="#000" font-family='"Liberation Sans", sans-serif' font-weight="bold">c</text>
<path d="M103.2,369.5 L97.6,369.5 Q91.6,369.5 91.6,375.5 L91.6,426.1 Q91.6,432.1 97.6,432.1 L302.4,432.1 Q308.4,432.1 308.4,426.1 L308.4,375.5 Q308.4,369.5 302.4,369.5 L295.5,369.5" fill="none" stroke="#2a2a2a" stroke-width="1.25"/>
<text x="107.30" y="373.20" font-size="12.5" fill="#111" font-family='"Liberation Sans", sans-serif' text-anchor="start">Co-axial modulation index (</text>
<text x="259.00" y="373.20" font-size="13.5" fill="#111" font-family='"Liberation Serif", serif' text-anchor="start" font-style="italic" textLength="28.3" lengthAdjust="spacingAndGlyphs">CMI</text>
<text x="287.40" y="373.20" font-size="12.5" fill="#111" font-family='"Liberation Sans", sans-serif' text-anchor="start">)</text>
<text x="118.60" y="397.80" font-size="14" fill="#111" font-family='"Liberation Serif", serif' text-anchor="start" font-style="italic" textLength="26" lengthAdjust="spacingAndGlyphs">CMI</text>
<text x="144.40" y="400.40" font-size="9.8" fill="#111" font-family='"Liberation Serif", serif' text-anchor="start" textLength="15.8" lengthAdjust="spacingAndGlyphs">pRF</text>
<text x="164.30" y="398.60" font-size="15.5" fill="#111" font-family='"Liberation Serif", serif' text-anchor="start" stroke="#111" stroke-width="0.12">=</text>
<text x="179.60" y="397.80" font-size="13.6" fill="#E69F00" font-family='"Liberation Serif", serif' text-anchor="start" font-style="italic" letter-spacing="1.9" stroke="#E69F00" stroke-width="0.12">RI</text>
<text x="193.80" y="400.40" font-size="9.8" fill="#E69F00" font-family='"Liberation Serif", serif' text-anchor="start" textLength="51.7" lengthAdjust="spacingAndGlyphs">pRF;<tspan font-style="italic">θ</tspan>=radial</text>
<text x="183.60" y="417.60" font-size="13.5" fill="#111" font-family='"Liberation Serif", serif' text-anchor="start" stroke="#111" stroke-width="0.12">−</text>
<text x="197.40" y="417.00" font-size="13.6" fill="#1f80c8" font-family='"Liberation Serif", serif' text-anchor="start" font-style="italic" letter-spacing="1.9" stroke="#1f80c8" stroke-width="0.12">RI</text>
<text x="211.60" y="419.60" font-size="9.8" fill="#1f80c8" font-family='"Liberation Serif", serif' text-anchor="start" textLength="67.2" lengthAdjust="spacingAndGlyphs">pRF;<tspan font-style="italic">θ</tspan>=tangential</text>
<path d="M118.6,465.8 L96,465.8 Q90,465.8 90,471.8 L90,585.1 Q90,591.1 96,591.1 L302.3,591.1 Q308.3,591.1 308.3,585.1 L308.3,471.8 Q308.3,465.8 302.3,465.8 L279.8,465.8" fill="none" stroke="#2a2a2a" stroke-width="1.25"/>
<text x="150.60" y="464.60" font-size="12.5" fill="#111" font-family='"Liberation Sans", sans-serif' text-anchor="start">Conversion of</text>
<text x="231.60" y="464.60" font-size="13.5" fill="#111" font-family='"Liberation Serif", serif' text-anchor="start" font-style="italic" textLength="16.2" lengthAdjust="spacingAndGlyphs">RI</text>
<text x="127.20" y="481.80" font-size="12.5" fill="#111" font-family='"Liberation Sans", sans-serif' text-anchor="start">to co-axial bias index (</text>
<text x="251.20" y="481.80" font-size="13.5" fill="#111" font-family='"Liberation Serif", serif' text-anchor="start" font-style="italic" textLength="16.4" lengthAdjust="spacingAndGlyphs">CI</text>
<text x="267.40" y="481.80" font-size="12.5" fill="#111" font-family='"Liberation Sans", sans-serif' text-anchor="start">)</text>
<text x="99.30" y="511.10" font-size="13.8" fill="#111" font-family='"Liberation Serif", serif' text-anchor="start" font-style="italic" letter-spacing="0.8" stroke="#111" stroke-width="0.12">CI</text>
<line x1="99.80" y1="501.10" x2="114.00" y2="501.10" stroke="#111" stroke-width="0.9" />
<text x="114.00" y="513.20" font-size="9.8" fill="#111" font-family='"Liberation Serif", serif' text-anchor="start" textLength="15.5" lengthAdjust="spacingAndGlyphs">perc</text>
<text x="133.60" y="512.00" font-size="15.5" fill="#111" font-family='"Liberation Serif", serif' text-anchor="start" stroke="#111" stroke-width="0.12">=</text>
<text x="145.60" y="510.80" font-size="13.5" fill="#111" font-family='"Liberation Serif", serif' text-anchor="start" stroke="#111" stroke-width="0.12">[</text>
<text x="150.10" y="510.80" font-size="13.5" fill="#E69F00" font-family='"Liberation Serif", serif' text-anchor="start" stroke="#E69F00" stroke-width="0.12">(</text>
<text x="153.20" y="510.80" font-size="13.5" fill="#E69F00" font-family='"Liberation Serif", serif' text-anchor="start" font-style="italic" stroke="#E69F00" stroke-width="0.12">f</text>
<text x="160.30" y="513.20" font-size="9.5" fill="#E69F00" font-family='"Liberation Serif", serif' font-style="italic">R</text>
<text x="173.56" y="513.20" font-size="9.5" fill="#E69F00" font-family='"Liberation Serif", serif' font-style="italic">C</text>
<line x1="166.40" y1="510.35" x2="171.13" y2="510.35" stroke="#E69F00" stroke-width="0.81"/>
<path d="M173.06,510.35 L169.83,508.99 L169.83,511.71 Z" fill="#E69F00"/>
<text x="183.80" y="510.00" font-size="13" fill="#E69F00" font-family='"Liberation Serif", serif' text-anchor="start" stroke="#E69F00" stroke-width="0.12">*</text>
<text x="191.70" y="509.60" font-size="13.4" fill="#E69F00" font-family='"Liberation Serif", serif' text-anchor="start" font-style="italic" letter-spacing="2.0" stroke="#E69F00" stroke-width="0.12">RI</text>
<text x="205.70" y="512.60" font-size="9.8" fill="#E69F00" font-family='"Liberation Serif", serif' text-anchor="start" textLength="52" lengthAdjust="spacingAndGlyphs">perc;<tspan font-style="italic">θ</tspan>=radial</text>
<text x="258.40" y="510.80" font-size="13.5" fill="#E69F00" font-family='"Liberation Serif", serif' text-anchor="start" stroke="#E69F00" stroke-width="0.12">)</text>
<text x="142.60" y="529.80" font-size="14" fill="#111" font-family='"Liberation Serif", serif' text-anchor="start" stroke="#111" stroke-width="0.12">+</text>
<text x="154.10" y="529.20" font-size="13.5" fill="#1f80c8" font-family='"Liberation Serif", serif' text-anchor="start" stroke="#1f80c8" stroke-width="0.12">(</text>
<text x="158.00" y="529.20" font-size="13.5" fill="#1f80c8" font-family='"Liberation Serif", serif' text-anchor="start" font-style="italic" stroke="#1f80c8" stroke-width="0.12">f</text>
<text x="163.50" y="531.60" font-size="9.5" fill="#1f80c8" font-family='"Liberation Serif", serif' font-style="italic">R</text>
<text x="177.56" y="531.60" font-size="9.5" fill="#1f80c8" font-family='"Liberation Serif", serif' font-style="italic">C</text>
<line x1="169.60" y1="528.75" x2="175.13" y2="528.75" stroke="#1f80c8" stroke-width="0.81"/>
<path d="M177.06,528.75 L173.83,527.39 L173.83,530.11 Z" fill="#1f80c8"/>
<text x="187.40" y="528.20" font-size="13" fill="#1f80c8" font-family='"Liberation Serif", serif' text-anchor="start" stroke="#1f80c8" stroke-width="0.12">*</text>
<text x="196.00" y="528.50" font-size="13.4" fill="#1f80c8" font-family='"Liberation Serif", serif' text-anchor="start" font-style="italic" letter-spacing="2.0" stroke="#1f80c8" stroke-width="0.12">RI</text>
<text x="209.90" y="531.40" font-size="9.8" fill="#1f80c8" font-family='"Liberation Serif", serif' text-anchor="start" textLength="67.6" lengthAdjust="spacingAndGlyphs">perc;<tspan font-style="italic">θ</tspan>=tangential</text>
<text x="278.40" y="529.20" font-size="13.5" fill="#1f80c8" font-family='"Liberation Serif", serif' text-anchor="start" stroke="#1f80c8" stroke-width="0.12">)</text>
<text x="282.00" y="529.20" font-size="13.5" fill="#111" font-family='"Liberation Serif", serif' text-anchor="start" textLength="17" lengthAdjust="spacingAndGlyphs">]/2</text>
<text x="99.00" y="557.00" font-size="13.5" fill="#111" font-family='"Liberation Serif", serif' text-anchor="start" font-style="italic" stroke="#111" stroke-width="0.12">f</text>
<text x="103.80" y="559.60" font-size="9.5" fill="#111" font-family='"Liberation Serif", serif' font-style="italic">R</text>
<text x="119.96" y="559.60" font-size="9.5" fill="#111" font-family='"Liberation Serif", serif' font-style="italic">C</text>
<line x1="109.90" y1="556.75" x2="117.53" y2="556.75" stroke="#111" stroke-width="0.81"/>
<path d="M119.46,556.75 L116.23,555.39 L116.23,558.11 Z" fill="#111"/>
<text x="129.60" y="558.00" font-size="15.5" fill="#111" font-family='"Liberation Serif", serif' text-anchor="start" stroke="#111" stroke-width="0.12">=</text>
<text x="142.40" y="557.00" font-size="13.5" fill="#111" font-family='"Liberation Serif", serif' text-anchor="start" stroke="#111" stroke-width="0.12">1</text>
<text x="152.00" y="557.00" font-size="13.5" fill="#111" font-family='"Liberation Serif", serif' text-anchor="start" font-style="italic" letter-spacing="1.2" stroke="#111" stroke-width="0.12">if</text>
<text x="165.70" y="557.00" font-size="13.5" fill="#111" font-family='"Liberation Serif", serif' text-anchor="start" font-style="italic" stroke="#111" stroke-width="0.12">θ</text>
<text x="177.80" y="558.00" font-size="15.5" fill="#111" font-family='"Liberation Serif", serif' text-anchor="start" stroke="#111" stroke-width="0.12">=</text>
<text x="189.80" y="557.00" font-size="13.5" fill="#111" font-family='"Liberation Serif", serif' text-anchor="start" textLength="30" lengthAdjust="spacingAndGlyphs">radial</text>
<text x="143.70" y="575.00" font-size="13.5" fill="#111" font-family='"Liberation Serif", serif' text-anchor="start" textLength="14.4" lengthAdjust="spacingAndGlyphs">−1</text>
<text x="163.40" y="575.00" font-size="13.5" fill="#111" font-family='"Liberation Serif", serif' text-anchor="start" font-style="italic" letter-spacing="1.2" stroke="#111" stroke-width="0.12">if</text>
<text x="176.10" y="575.00" font-size="13.5" fill="#111" font-family='"Liberation Serif", serif' text-anchor="start" font-style="italic" stroke="#111" stroke-width="0.12">θ</text>
<text x="188.60" y="576.00" font-size="15.5" fill="#111" font-family='"Liberation Serif", serif' text-anchor="start" stroke="#111" stroke-width="0.12">=</text>
<text x="200.70" y="575.00" font-size="13.5" fill="#111" font-family='"Liberation Serif", serif' text-anchor="start" textLength="52.1" lengthAdjust="spacingAndGlyphs">tangential</text>
<text x="366.20" y="351.80" font-size="28" text-anchor="start" fill="#000" font-family='"Liberation Sans", sans-serif' font-weight="bold">d</text>
<line x1="517.30" y1="343.40" x2="517.30" y2="556.90" stroke="#cfcfcf" stroke-width="1.4" />
<line x1="437.60" y1="491.50" x2="651.60" y2="491.50" stroke="#cfcfcf" stroke-width="1.4" />
<line x1="437.60" y1="343.40" x2="437.60" y2="557.40" stroke="#4a4a4a" stroke-width="1" />
<line x1="437.10" y1="556.90" x2="651.60" y2="556.90" stroke="#4a4a4a" stroke-width="1" />
<line x1="432.10" y1="379.00" x2="437.60" y2="379.00" stroke="#4a4a4a" stroke-width="1" />
<text x="426.50" y="384.50" font-size="14" text-anchor="end" fill="#1a1a1a" font-family='"Liberation Sans", sans-serif' >0.6</text>
<line x1="432.10" y1="416.50" x2="437.60" y2="416.50" stroke="#4a4a4a" stroke-width="1" />
<text x="426.50" y="422.00" font-size="14" text-anchor="end" fill="#1a1a1a" font-family='"Liberation Sans", sans-serif' >0.4</text>
<line x1="432.10" y1="454.00" x2="437.60" y2="454.00" stroke="#4a4a4a" stroke-width="1" />
<text x="426.50" y="459.50" font-size="14" text-anchor="end" fill="#1a1a1a" font-family='"Liberation Sans", sans-serif' >0.2</text>
<line x1="432.10" y1="491.50" x2="437.60" y2="491.50" stroke="#4a4a4a" stroke-width="1" />
<text x="426.50" y="497.00" font-size="14" text-anchor="end" fill="#1a1a1a" font-family='"Liberation Sans", sans-serif' >0</text>
<line x1="432.10" y1="529.00" x2="437.60" y2="529.00" stroke="#4a4a4a" stroke-width="1" />
<text x="426.50" y="534.50" font-size="14" text-anchor="end" fill="#1a1a1a" font-family='"Liberation Sans", sans-serif' >-0.2</text>
<line x1="471.80" y1="556.90" x2="471.80" y2="561.40" stroke="#4a4a4a" stroke-width="1" />
<text x="471.80" y="582.00" font-size="14" text-anchor="middle" fill="#1a1a1a" font-family='"Liberation Sans", sans-serif' >-0.2</text>
<line x1="517.30" y1="556.90" x2="517.30" y2="561.40" stroke="#4a4a4a" stroke-width="1" />
<text x="517.30" y="582.00" font-size="14" text-anchor="middle" fill="#1a1a1a" font-family='"Liberation Sans", sans-serif' >0</text>
<line x1="562.80" y1="556.90" x2="562.80" y2="561.40" stroke="#4a4a4a" stroke-width="1" />
<text x="562.80" y="582.00" font-size="14" text-anchor="middle" fill="#1a1a1a" font-family='"Liberation Sans", sans-serif' >0.2</text>
<line x1="608.30" y1="556.90" x2="608.30" y2="561.40" stroke="#4a4a4a" stroke-width="1" />
<text x="608.30" y="582.00" font-size="14" text-anchor="middle" fill="#1a1a1a" font-family='"Liberation Sans", sans-serif' >0.4</text>
<line x1="437.6" y1="501.8" x2="651.6" y2="378.4" stroke="#cbcbcb" stroke-width="3.6"/>
<circle cx="607.10" cy="365.20" r="2.4" fill="#000"/>
<circle cx="573.60" cy="385.00" r="2.4" fill="#000"/>
<circle cx="533.70" cy="397.50" r="2.4" fill="#000"/>
<circle cx="500.70" cy="414.60" r="2.4" fill="#000"/>
<circle cx="545.10" cy="413.80" r="2.4" fill="#000"/>
<circle cx="494.70" cy="427.60" r="2.4" fill="#000"/>
<circle cx="501.60" cy="430.90" r="2.4" fill="#000"/>
<circle cx="523.90" cy="429.10" r="2.4" fill="#000"/>
<circle cx="526.80" cy="426.70" r="2.4" fill="#000"/>
<circle cx="542.00" cy="431.10" r="2.4" fill="#000"/>
<circle cx="575.20" cy="428.90" r="2.4" fill="#000"/>
<circle cx="518.30" cy="436.50" r="2.4" fill="#000"/>
<circle cx="530.80" cy="453.20" r="2.4" fill="#000"/>
<circle cx="492.70" cy="467.50" r="2.4" fill="#000"/>
<circle cx="520.80" cy="467.70" r="2.4" fill="#000"/>
<circle cx="526.80" cy="466.40" r="2.4" fill="#000"/>
<circle cx="545.30" cy="469.90" r="2.4" fill="#000"/>
<circle cx="519.20" cy="473.00" r="2.4" fill="#000"/>
<circle cx="490.00" cy="477.70" r="2.4" fill="#000"/>
<circle cx="507.20" cy="480.00" r="2.4" fill="#000"/>
<circle cx="511.00" cy="482.40" r="2.4" fill="#000"/>
<circle cx="623.50" cy="404.60" r="2.4" fill="#000"/>
<circle cx="644.20" cy="419.30" r="2.4" fill="#000"/>
<circle cx="452.10" cy="525.30" r="2.4" fill="#000"/>
<circle cx="494.40" cy="546.80" r="2.4" fill="#000"/>
<circle cx="473.20" cy="443.00" r="2.4" fill="#000"/>
<circle cx="527.10" cy="543.20" r="2.4" fill="#000"/>
<text x="622.8" y="469.3" font-family='"Liberation Sans", sans-serif' fill="#000" font-style="italic" font-size="9.7">r<tspan font-size="7.8" dy="4">(26)</tspan><tspan dy="-4">=0.57</tspan></text>
<text x="622.80" y="486.40" font-size="9.7" text-anchor="start" fill="#000" font-family='"Liberation Sans", sans-serif' font-style="italic">p=0.001</text>
<text transform="translate(373.4,474.6) rotate(-90)" font-family='"Liberation Sans", sans-serif' fill="#111"><tspan font-size="19.5">CI</tspan><tspan font-size="13" dy="1.6">perc</tspan></text>
<line x1="357.40" y1="474.20" x2="357.40" y2="458.20" stroke="#111" stroke-width="1" />
<line x1="370.15" y1="398.00" x2="376.65" y2="398.00" stroke="#333" stroke-width="0.9" />
<line x1="373.40" y1="394.75" x2="373.40" y2="401.25" stroke="#333" stroke-width="0.9" />
<ellipse cx="392.3" cy="398" rx="9.8" ry="5.6" fill="none" stroke="#E69F00" stroke-width="1.4"/>
<ellipse cx="392.3" cy="398" rx="5.6" ry="9.8" fill="none" stroke="#56B4E9" stroke-width="1.4"/>
<line x1="393.30" y1="462.20" x2="393.30" y2="430.60" stroke="#111" stroke-width="1.1" />
<path d="M393.30,425.60 L390.70,431.60 L395.90,431.60 Z" fill="#111"/>
<line x1="370.15" y1="491.50" x2="376.65" y2="491.50" stroke="#333" stroke-width="0.9" />
<line x1="373.40" y1="488.25" x2="373.40" y2="494.75" stroke="#333" stroke-width="0.9" />
<ellipse cx="390.8" cy="491.5" rx="8" ry="8" fill="none" stroke="#E69F00" stroke-width="1.4"/>
<ellipse cx="395.7" cy="491.5" rx="8" ry="8" fill="none" stroke="#56B4E9" stroke-width="1.4"/>
<line x1="502.35" y1="592.70" x2="508.85" y2="592.70" stroke="#333" stroke-width="0.9" />
<line x1="505.60" y1="589.45" x2="505.60" y2="595.95" stroke="#333" stroke-width="0.9" />
<ellipse cx="521.3" cy="592.7" rx="7.6" ry="7.6" fill="none" stroke="#E69F00" stroke-width="1.4"/>
<ellipse cx="527.8" cy="592.7" rx="7.6" ry="7.6" fill="none" stroke="#56B4E9" stroke-width="1.4"/>
<line x1="549.90" y1="592.70" x2="581.10" y2="592.70" stroke="#111" stroke-width="1.1" />
<path d="M586.10,592.70 L580.10,590.10 L580.10,595.30 Z" fill="#111"/>
<line x1="600.35" y1="592.70" x2="606.85" y2="592.70" stroke="#333" stroke-width="0.9" />
<line x1="603.60" y1="589.45" x2="603.60" y2="595.95" stroke="#333" stroke-width="0.9" />
<ellipse cx="624.1" cy="592.7" rx="10.5" ry="7.0" fill="none" stroke="#E69F00" stroke-width="1.4"/>
<ellipse cx="624.1" cy="592.7" rx="7.8" ry="8.2" fill="none" stroke="#56B4E9" stroke-width="1.4"/>
<text x="517.5" y="623.3" font-family='"Liberation Sans", sans-serif' fill="#111"><tspan font-size="18.5">CMI</tspan><tspan font-size="13" dy="1.4">pRF</tspan></text>
</svg>
</body></html>
